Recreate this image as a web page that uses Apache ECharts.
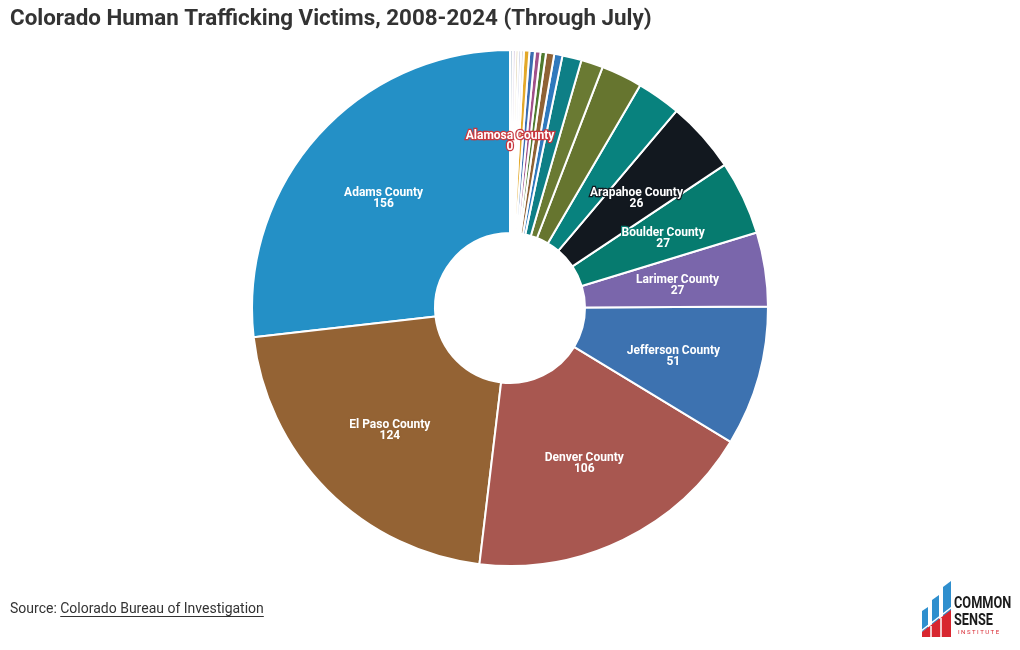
<!DOCTYPE html>
<html>
<head>
<meta charset="utf-8">
<script src="https://cdn.jsdelivr.net/npm/echarts@6/dist/echarts.min.js"></script>
<style>
html,body{margin:0;padding:0;background:#fff;}
#chart{width:1020px;height:650px;}
</style>
</head>
<body>
<div id="chart"></div>
<script>
const counties = ["Adams County","El Paso County","Denver County","Jefferson County","Larimer County","Boulder County","Arapahoe County",
  "Weld County","Pueblo County","Mesa County","Douglas County","Broomfield County","Garfield County","Eagle County","Summit County",
  "Otero County","Montezuma County","Logan County","Fremont County","La Plata County","Montrose County","Morgan County","Alamosa County"];
const victims = [156,124,106,51,27,27,26,16,15,8,7,3,3,2,2,2,2,1,1,1,1,1,0];
const sliceColors = ["#2490c6","#946334","#a85750","#3d72b0","#7a66ab","#067b6f","#12181f",
  "#08827e","#66752f","#6a7a33","#0e7f86","#2f79bd","#8f6235","#4f7a2e","#a0508a","#3a6db0","#e3a92a",
  "#d3d3d3","#c6cbe0","#d8c9a0","#c9b8d6","#b8c9d8","#c8383f"];
const labelled = ["Adams County","El Paso County","Denver County","Jefferson County","Larimer County","Boulder County","Arapahoe County","Alamosa County"];
const titleText = "Colorado Human Trafficking Victims, 2008-2024 (Through July)";
const sourcePrefix = "Source: ";
const sourceLink = "Colorado Bureau of Investigation";

const chart = echarts.init(document.getElementById('chart'), null, {renderer:'canvas'});

const data = counties.map((c,i)=>({
  name: c,
  value: victims[i],
  itemStyle: {color: sliceColors[i]},
  label: {
    show: labelled.indexOf(c) >= 0,
    textBorderColor: sliceColors[i],
    textBorderWidth: 2.5
  }
}));

const mctx = document.createElement('canvas').getContext('2d');
mctx.font = '14px Roboto';
const prefixW = mctx.measureText(sourcePrefix).width;
const linkW = mctx.measureText(sourceLink).width;

chart.setOption({
  backgroundColor: '#ffffff',
  animation: false,
  title: {
    text: titleText,
    left: 10, top: 8, padding: 0,
    textStyle: {fontFamily: 'Roboto', fontSize: 22.4, fontWeight: 'bold', color: '#333333'}
  },
  series: [{
    type: 'pie',
    center: [510, 308],
    radius: [75, 258],
    startAngle: 90,
    clockwise: false,
    avoidLabelOverlap: false,
    minShowLabelAngle: 0,
    stillShowZeroSum: true,
    itemStyle: {borderColor: '#ffffff', borderWidth: 2},
    label: {
      position: 'inside',
      formatter: '{b}\n{c}',
      fontFamily: 'Roboto',
      fontSize: 12,
      fontWeight: 'bold',
      lineHeight: 11,
      offset: [0, 3],
      color: '#ffffff'
    },
    labelLine: {show: false},
    emphasis: {disabled: true},
    data: data
  }],
  graphic: [
    {type:'text', x: 10, y: 602, style:{text: sourcePrefix, font: '14px Roboto', fill:'#333333'}},
    {type:'text', x: 10 + prefixW, y: 602, style:{text: sourceLink, font: '14px Roboto', fill:'#333333'}},
    {type:'line', shape:{x1: 10 + prefixW, y1: 616.5, x2: 10 + prefixW + linkW, y2: 616.5}, style:{stroke:'#333333', lineWidth:1}},
    // logo
    {type:'polygon', shape:{points:[[922,611],[928,607],[928,628],[922,632]]}, style:{fill:'#2f8fce'}},
    {type:'polygon', shape:{points:[[932,600],[939,595],[939,620],[932,625]]}, style:{fill:'#2f8fce'}},
    {type:'polygon', shape:{points:[[943,587],[951,581],[951,612],[943,618]]}, style:{fill:'#2f8fce'}},
    {type:'polygon', shape:{points:[[922,632],[951,610],[951,637],[922,637]]}, style:{fill:'#d8262f'}},
    {type:'line', shape:{x1:921, y1:631, x2:952, y2:607}, style:{stroke:'#ffffff', lineWidth:1.5}},
    {type:'line', shape:{x1:931, y1:637, x2:931, y2:626}, style:{stroke:'#ffffff', lineWidth:1.5}},
    {type:'line', shape:{x1:941, y1:637, x2:941, y2:618}, style:{stroke:'#ffffff', lineWidth:1.5}},
    {type:'text', x: 954, y: 595, scaleX: 0.75, style:{text:'COMMON', font:'bold 17px Roboto', fill:'#1b1b1b'}},
    {type:'text', x: 954, y: 612, scaleX: 0.75, style:{text:'SENSE', font:'bold 17px Roboto', fill:'#1b1b1b'}},
    {type:'text', x: 958, y: 629, style:{text:'I N S T I T U T E', font:'6px Roboto', fill:'#d8262f'}}
  ]
});
</script>
</body>
</html>
